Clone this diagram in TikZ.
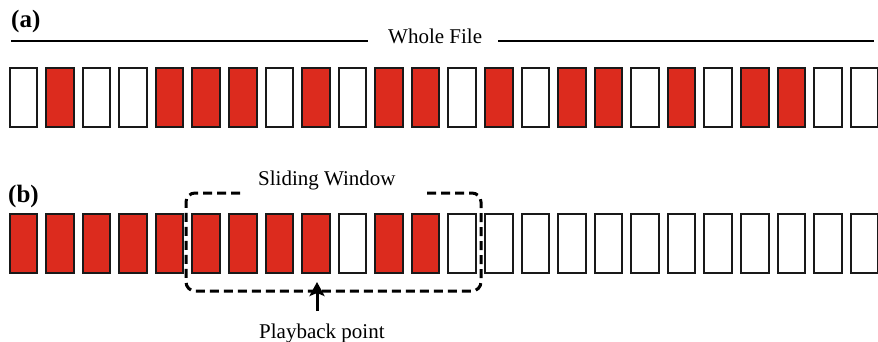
\documentclass[tikz,border=0pt]{standalone}
\usepackage{fontspec}
\setmainfont{Liberation Serif}
\usetikzlibrary{arrows.meta}
\definecolor{boxred}{HTML}{DC2B1E}
\begin{document}
\begin{tikzpicture}[x=1pt,y=-1pt,
  cell/.style={draw=black!90,line width=2pt,minimum width=27.5pt,minimum height=59pt,inner sep=0pt,anchor=north west},
  full/.style={cell,fill=boxred},
  empty/.style={cell,fill=white},
  lbl/.style={font=\fontsize{21}{24}\selectfont,inner sep=0pt,anchor=base west},
  tag/.style={font=\fontsize{25}{27}\selectfont\bfseries,inner sep=0pt,anchor=base west},
  win/.style={line width=3pt,dash pattern=on 9pt off 5pt,rounded corners=9pt}]
\useasboundingbox (0,0) rectangle (878,341);
% row (a)
\foreach \c [count=\i from 0] in {0,1,0,0,1,1,1,0,1,0,1,1,0,1,0,1,1,0,1,0,1,1,0,0}{
  \ifnum\c=1
    \node[full] (a\i) at ({8.6+\i*36.57},66.5) {};
  \else
    \node[empty] (a\i) at ({8.6+\i*36.57},66.5) {};
  \fi
}
% row (b)
\foreach \c [count=\i from 0] in {1,1,1,1,1,1,1,1,1,0,1,1,0,0,0,0,0,0,0,0,0,0,0,0}{
  \ifnum\c=1
    \node[full] (b\i) at ({8.6+\i*36.57},213) {};
  \else
    \node[empty] (b\i) at ({8.6+\i*36.57},213) {};
  \fi
}
\node[tag] (ta) at (11,27) {(a)};
\node[tag] (tb) at (8,202) {(b)};
% whole file
\node[lbl] (wf) at (388,43.5) {Whole File};
\coordinate (wl) at (11,41);
\coordinate (wr) at (874,41);
\draw[line width=2pt] (wl) -- (wl -| {368,0}) ;
\draw[line width=2pt] (wr -| {498,0}) -- (wr);
% sliding window
\node[lbl] (sw) at (258,185) {Sliding Window};
\draw[win] (240,193) -- (186,193) -- (186,291) -- (481,291) -- (481,193) -- (423,193);
% playback point
\node[lbl] (pb) at (259,338) {Playback point};
\coordinate (pbt) at (317,311);
\coordinate (pbh) at (317,282);
\draw[line width=3pt,-{Stealth[length=14pt,width=15pt,inset=3pt]}] (pbt) -- (pbh);
\end{tikzpicture}
\end{document}
